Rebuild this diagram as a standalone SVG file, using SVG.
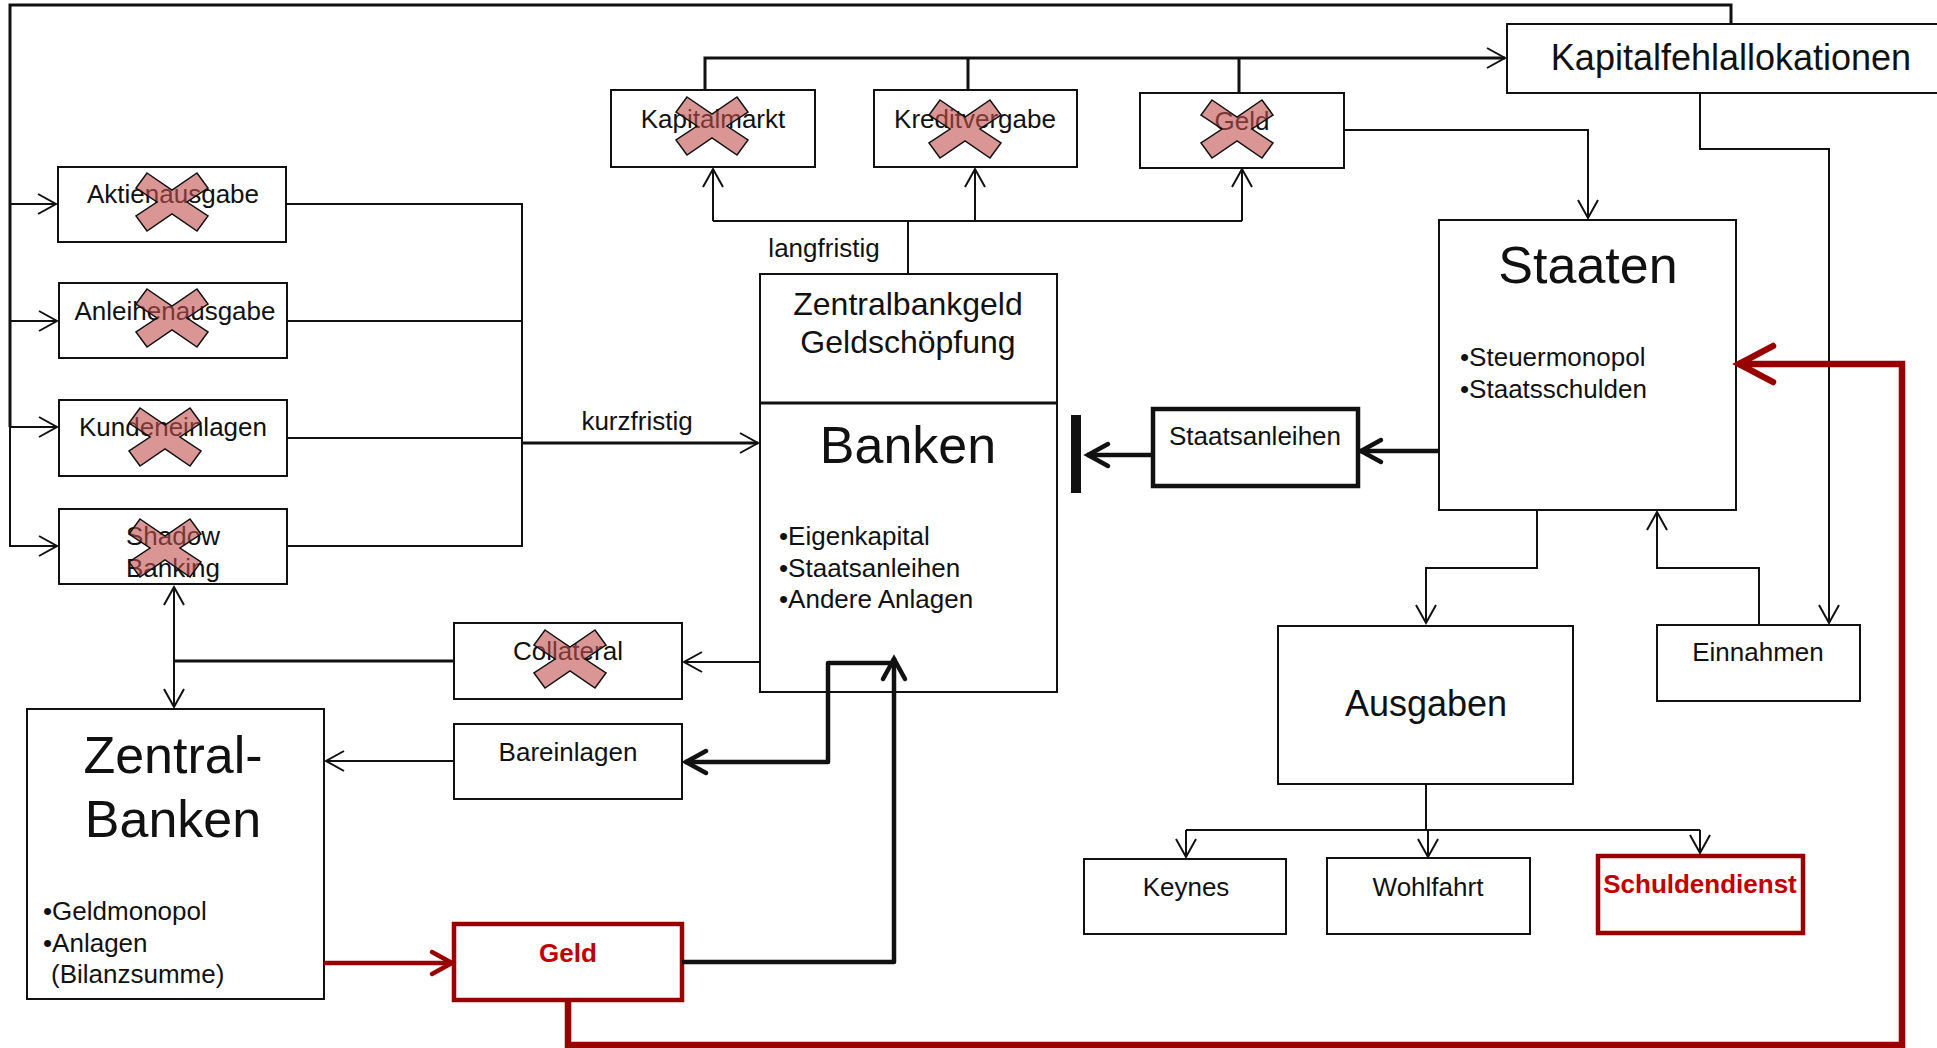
<svg xmlns="http://www.w3.org/2000/svg" width="1937" height="1048" viewBox="0 0 1937 1048">
<style>
text{font-family:"Liberation Sans",Arial,sans-serif;fill:#111}
.lbl{font-size:26px;text-anchor:middle}
.lst{font-size:26px}
.big{font-size:52px;text-anchor:middle}
.box{fill:#fff;stroke:#111;stroke-width:2}
.thk{fill:#fff;stroke:#111;stroke-width:4.5}
.red{fill:#fff;stroke:#990000;stroke-width:4.5}
.rt{fill:#C00000;font-weight:bold;font-size:26px;text-anchor:middle}
.c{fill:none;stroke:#111;stroke-width:2}
.c3{fill:none;stroke:#111;stroke-width:3}
.ck{fill:none;stroke:#111;stroke-width:4.5;stroke-linejoin:round}
.cr{fill:none;stroke:#990000;stroke-width:4.5}
.cr6{fill:none;stroke:#990000;stroke-width:6.5}
</style>
<defs>
<marker id="a" markerUnits="userSpaceOnUse" markerWidth="24" markerHeight="24" refX="20" refY="12" orient="auto"><path d="M2,2 L20,12 L2,22" fill="none" stroke="#111" stroke-width="2"/></marker>
<marker id="ak" markerUnits="userSpaceOnUse" markerWidth="30" markerHeight="30" refX="25" refY="15" orient="auto"><path d="M4,4 L24,15 L4,26" fill="none" stroke="#111" stroke-width="4.5" stroke-linecap="round"/></marker>
<marker id="ar" markerUnits="userSpaceOnUse" markerWidth="30" markerHeight="30" refX="25" refY="15" orient="auto"><path d="M4,4 L24,15 L4,26" fill="none" stroke="#990000" stroke-width="4.5" stroke-linecap="round"/></marker>
<marker id="arb" markerUnits="userSpaceOnUse" markerWidth="46" markerHeight="46" refX="40" refY="23" orient="auto"><path d="M5,5 L39,23 L5,41" fill="none" stroke="#990000" stroke-width="6.5" stroke-linecap="round"/></marker>
<path id="x" d="M-25,-29 L0,-12 L25,-29 L36,-14 L15,0 L36,14 L25,29 L0,12 L-25,29 L-36,14 L-15,0 L-36,-14 Z" fill="#C0504D" fill-opacity="0.6" stroke="#111" stroke-width="1.5"/>
</defs>
<rect width="1937" height="1048" fill="#fff"/>

<g id="kapitalfehlallokationen">
<rect class="box" x="1507" y="24" width="448" height="69"/>
<text x="1731" y="70" font-size="36" text-anchor="middle">Kapitalfehlallokationen</text>
</g>

<g id="aktienausgabe">
<rect class="box" x="58" y="167" width="228" height="75"/>
<text class="lbl" x="173" y="203">Aktienausgabe</text>
<use href="#x" x="172" y="202"/>
</g>
<g id="anleihenausgabe">
<rect class="box" x="59" y="283" width="228" height="75"/>
<text class="lbl" x="175" y="320">Anleihenausgabe</text>
<use href="#x" x="172" y="318"/>
</g>
<g id="kundeneinlagen">
<rect class="box" x="59" y="400" width="228" height="76"/>
<text class="lbl" x="173" y="436">Kundeneinlagen</text>
<use href="#x" x="165" y="437"/>
</g>
<g id="shadowbanking">
<rect class="box" x="59" y="509" width="228" height="75"/>
<text class="lbl" x="173" y="545">Shadow</text>
<text class="lbl" x="173" y="577">Banking</text>
<use href="#x" x="165" y="548"/>
</g>

<g id="kapitalmarkt">
<rect class="box" x="611" y="90" width="204" height="77"/>
<text class="lbl" x="713" y="128">Kapitalmarkt</text>
<use href="#x" x="712" y="126"/>
</g>
<g id="kreditvergabe">
<rect class="box" x="874" y="90" width="203" height="77"/>
<text class="lbl" x="975" y="128">Kreditvergabe</text>
<use href="#x" x="965" y="129"/>
</g>
<g id="geld-markt">
<rect class="box" x="1140" y="93" width="204" height="75"/>
<text class="lbl" x="1242" y="130">Geld</text>
<use href="#x" x="1237" y="129"/>
</g>

<g id="banken">
<rect class="box" x="760" y="274" width="297" height="418" stroke-width="2.5"/>
<line x1="760" y1="403" x2="1057" y2="403" stroke="#111" stroke-width="3"/>
<text x="908" y="315" font-size="32" text-anchor="middle">Zentralbankgeld</text>
<text x="908" y="353" font-size="32" text-anchor="middle">Geldschöpfung</text>
<text class="big" x="908" y="463">Banken</text>
<text class="lst" x="779" y="545">•Eigenkapital</text>
<text class="lst" x="779" y="577">•Staatsanleihen</text>
<text class="lst" x="779" y="608">•Andere Anlagen</text>
</g>
<text class="lbl" x="824" y="257">langfristig</text>
<text class="lbl" x="637" y="430">kurzfristig</text>

<g id="staatsanleihen">
<rect class="thk" x="1153" y="409" width="205" height="77"/>
<text class="lbl" x="1255" y="445">Staatsanleihen</text>
</g>

<g id="staaten">
<rect class="box" x="1439" y="220" width="297" height="290"/>
<text class="big" x="1588" y="283">Staaten</text>
<text class="lst" x="1460" y="366">•Steuermonopol</text>
<text class="lst" x="1460" y="398">•Staatsschulden</text>
</g>

<g id="ausgaben">
<rect class="box" x="1278" y="626" width="295" height="158"/>
<text x="1426" y="716" font-size="36" text-anchor="middle">Ausgaben</text>
</g>
<g id="einnahmen">
<rect class="box" x="1657" y="625" width="203" height="76"/>
<text class="lbl" x="1758" y="661">Einnahmen</text>
</g>
<g id="keynes">
<rect class="box" x="1084" y="859" width="202" height="75"/>
<text class="lbl" x="1186" y="896">Keynes</text>
</g>
<g id="wohlfahrt">
<rect class="box" x="1327" y="858" width="203" height="76"/>
<text class="lbl" x="1428" y="896">Wohlfahrt</text>
</g>
<g id="schuldendienst">
<rect class="red" x="1598" y="856" width="205" height="77"/>
<text class="rt" x="1700" y="893">Schuldendienst</text>
</g>

<g id="collateral">
<rect class="box" x="454" y="623" width="228" height="76"/>
<text class="lbl" x="568" y="660">Collateral</text>
<use href="#x" x="570" y="659"/>
</g>
<g id="bareinlagen">
<rect class="box" x="454" y="724" width="228" height="75"/>
<text class="lbl" x="568" y="761">Bareinlagen</text>
</g>
<g id="geld">
<rect class="red" x="454" y="924" width="228" height="76"/>
<text class="rt" x="568" y="962">Geld</text>
</g>

<g id="zentralbanken">
<rect class="box" x="27" y="709" width="297" height="290"/>
<text class="big" x="173" y="773">Zentral-</text>
<text class="big" x="173" y="837">Banken</text>
<text class="lst" x="43" y="920">•Geldmonopol</text>
<text class="lst" x="43" y="952">•Anlagen</text>
<text class="lst" x="51" y="983">(Bilanzsumme)</text>
</g>

<g id="connectors">
<path class="c3" d="M1731,24 V5 H10 V427"/>
<path class="c" d="M10,427 V546 H57" marker-end="url(#a)"/>
<path class="c" d="M10,204 H56" marker-end="url(#a)"/>
<path class="c" d="M10,321 H57" marker-end="url(#a)"/>
<path class="c" d="M10,427 H57" marker-end="url(#a)"/>
<path class="c" d="M286,204 H522 M287,321 H522 M287,438 H522 M287,546 H522 M522,203 V547"/>
<path class="c3" d="M522,443 H758" marker-end="url(#a)"/>
<path class="c" d="M908,275 V221"/>
<path class="c" d="M713,221 H1242"/>
<path class="c" d="M713,221 V169" marker-end="url(#a)"/>
<path class="c" d="M975,221 V169" marker-end="url(#a)"/>
<path class="c" d="M1242,221 V169" marker-end="url(#a)"/>
<path class="c3" d="M705,90 V58 H1505" marker-end="url(#a)"/>
<path class="c3" d="M968,90 V58 M1239,93 V58"/>
<path class="c" d="M1344,130 H1588 V218" marker-end="url(#a)"/>
<path class="c" d="M1700,93 V149 H1829 V623" marker-end="url(#a)"/>
<path class="ck" d="M1438,451 H1360" marker-end="url(#ak)"/>
<path class="ck" d="M1153,455 H1087" marker-end="url(#ak)"/>
<rect x="1071" y="415" width="10" height="78" fill="#111"/>
<path class="c" d="M1537,510 V568 H1426 V623" marker-end="url(#a)"/>
<path class="c" d="M1759,625 V568 H1657 V512" marker-end="url(#a)"/>
<path class="c" d="M1426,784 V830 M1186,830 H1700"/>
<path class="c" d="M1186,830 V857" marker-end="url(#a)"/>
<path class="c" d="M1428,830 V857" marker-end="url(#a)"/>
<path class="c" d="M1700,830 V853" marker-end="url(#a)"/>
<path class="c" d="M760,662 H684" marker-end="url(#a)"/>
<path class="c3" d="M454,661 H174"/>
<path class="c" d="M174,661 V587" marker-end="url(#a)"/>
<path class="c" d="M174,661 V707" marker-end="url(#a)"/>
<path class="c" d="M454,761 H326" marker-end="url(#a)"/>
<path class="cr" d="M324,963 H453" marker-end="url(#ar)"/>
<path class="ck" d="M682,962 H894 V658" marker-end="url(#ak)"/>
<path class="ck" d="M894,663 H828 V762 H685" marker-end="url(#ak)"/>
<path class="cr6" d="M568,1000 V1045 H1902 V364 H1738" marker-end="url(#arb)"/>
</g>
</svg>
